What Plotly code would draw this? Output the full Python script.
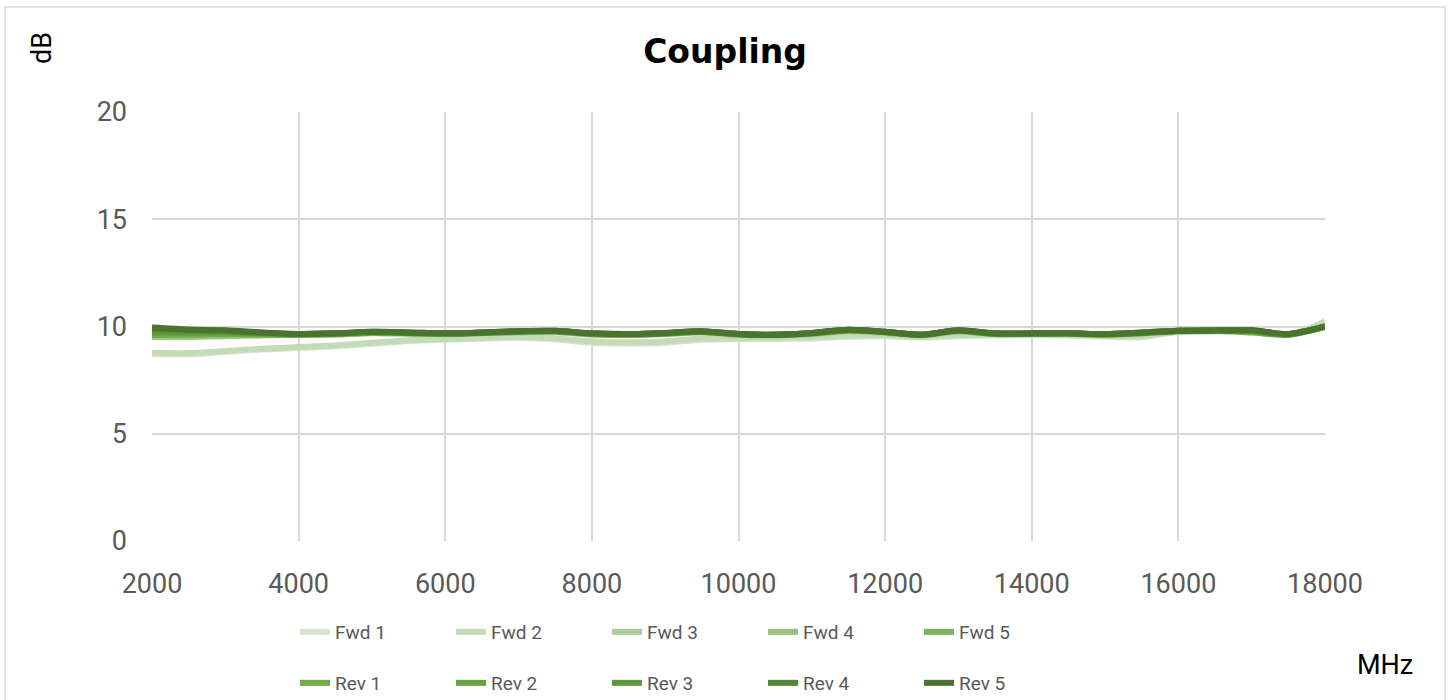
import plotly.graph_objects as go

freq = [2000, 2500, 3000, 3500, 4000, 4500, 5000, 5500, 6000, 6500, 7000, 7500,
        8000, 8500, 9000, 9500, 10000, 10500, 11000, 11500, 12000, 12500, 13000,
        13500, 14000, 14500, 15000, 15500, 16000, 16500, 17000, 17500, 18000]

fwd1 = [8.72, 8.70, 8.82, 8.93, 9.00, 9.08, 9.20, 9.32, 9.38, 9.43, 9.48, 9.40, 9.24, 9.20, 9.24, 9.38, 9.40,
        9.42, 9.44, 9.52, 9.55, 9.48, 9.55, 9.58, 9.60, 9.58, 9.52, 9.50, 9.74, 9.78, 9.74, 9.60, 10.25]
fwd2 = [8.78, 8.76, 8.86, 8.96, 9.04, 9.12, 9.24, 9.36, 9.42, 9.46, 9.52, 9.45, 9.30, 9.26, 9.30, 9.44, 9.46,
        9.48, 9.50, 9.58, 9.60, 9.52, 9.60, 9.62, 9.64, 9.62, 9.56, 9.55, 9.78, 9.80, 9.78, 9.62, 10.20]
fwd3 = [9.50, 9.50, 9.55, 9.58, 9.60, 9.62, 9.68, 9.66, 9.64, 9.68, 9.72, 9.74, 9.62, 9.60, 9.64, 9.72, 9.60,
        9.57, 9.64, 9.78, 9.70, 9.58, 9.76, 9.64, 9.64, 9.64, 9.60, 9.66, 9.76, 9.78, 9.78, 9.62, 9.98]
fwd4 = [9.55, 9.55, 9.58, 9.60, 9.62, 9.64, 9.70, 9.68, 9.65, 9.69, 9.74, 9.76, 9.64, 9.61, 9.66, 9.74, 9.62,
        9.59, 9.66, 9.80, 9.72, 9.60, 9.78, 9.65, 9.65, 9.66, 9.62, 9.68, 9.78, 9.80, 9.80, 9.63, 9.99]
fwd5 = [9.60, 9.62, 9.63, 9.63, 9.63, 9.65, 9.71, 9.69, 9.66, 9.70, 9.75, 9.77, 9.65, 9.62, 9.67, 9.75, 9.63,
        9.60, 9.67, 9.81, 9.73, 9.61, 9.79, 9.66, 9.66, 9.67, 9.63, 9.69, 9.79, 9.80, 9.80, 9.63, 10.00]
rev1 = [9.62, 9.64, 9.65, 9.64, 9.63, 9.66, 9.72, 9.70, 9.67, 9.71, 9.76, 9.78, 9.66, 9.63, 9.68, 9.76, 9.64,
        9.61, 9.68, 9.82, 9.74, 9.61, 9.80, 9.66, 9.66, 9.67, 9.63, 9.70, 9.80, 9.80, 9.72, 9.62, 9.98]
rev2 = [9.70, 9.70, 9.70, 9.67, 9.64, 9.66, 9.73, 9.70, 9.67, 9.71, 9.77, 9.79, 9.66, 9.63, 9.68, 9.77, 9.64,
        9.61, 9.69, 9.83, 9.74, 9.62, 9.81, 9.67, 9.67, 9.68, 9.64, 9.70, 9.80, 9.81, 9.78, 9.63, 9.99]
rev3 = [9.75, 9.74, 9.74, 9.69, 9.65, 9.67, 9.74, 9.71, 9.68, 9.72, 9.77, 9.79, 9.67, 9.64, 9.69, 9.77, 9.65,
        9.62, 9.69, 9.84, 9.75, 9.62, 9.81, 9.67, 9.67, 9.68, 9.64, 9.71, 9.80, 9.81, 9.81, 9.64, 10.00]
rev4 = [9.88, 9.82, 9.80, 9.71, 9.65, 9.68, 9.75, 9.72, 9.68, 9.72, 9.78, 9.80, 9.68, 9.65, 9.70, 9.78, 9.65,
        9.62, 9.70, 9.85, 9.75, 9.62, 9.82, 9.68, 9.68, 9.68, 9.65, 9.72, 9.80, 9.82, 9.82, 9.65, 10.00]
rev5 = [9.95, 9.86, 9.82, 9.72, 9.65, 9.68, 9.75, 9.72, 9.68, 9.72, 9.78, 9.80, 9.68, 9.65, 9.70, 9.78, 9.65,
        9.62, 9.70, 9.85, 9.75, 9.62, 9.82, 9.68, 9.68, 9.68, 9.65, 9.72, 9.80, 9.82, 9.82, 9.65, 10.00]

series_names = ["Fwd 1", "Fwd 2", "Fwd 3", "Fwd 4", "Fwd 5", "Rev 1", "Rev 2", "Rev 3", "Rev 4", "Rev 5"]
series_vals = [fwd1, fwd2, fwd3, fwd4, fwd5, rev1, rev2, rev3, rev4, rev5]
colors = ["#d5e5cd", "#c4dab8", "#aecb9e", "#98c182", "#7cb25c",
          "#70ad47", "#67a441", "#5e983b", "#548634", "#4a732e"]

x_ticks = [2000, 4000, 6000, 8000, 10000, 12000, 14000, 16000, 18000]
x_tick_text = ["2000", "4000", "6000", "8000", "10000", "12000", "14000", "16000", "18000"]
y_ticks = [0, 5, 10, 15, 20]

TICK_FONT = dict(family="Roboto, 'Open Sans', sans-serif", size=27, color="#595959")

W, H = 1451, 700
L, R, T, B = 152, 1325, 112, 541  # plot area in page pixels
PW, PH = R - L, B - T


def px(x):
    return (x - L) / PW


def py(y):
    return (B - y) / PH


fig = go.Figure()
for i, (name, vals, col) in enumerate(zip(series_names, series_vals, colors)):
    fig.add_trace(go.Scatter(
        x=freq, y=vals, name=name, mode="lines",
        line=dict(color=col, width=6, shape="spline", smoothing=0.8),
        legend="legend" if i < 5 else "legend2",
    ))

legend_common = dict(
    orientation="h", xanchor="left", yanchor="middle",
    font=dict(family="Roboto, 'Open Sans', sans-serif", size=19, color="#595959"),
    entrywidth=111, entrywidthmode="pixels", bgcolor="rgba(0,0,0,0)",
    itemwidth=30, tracegroupgap=0,
)

fig.update_layout(
    width=W, height=H,
    paper_bgcolor="white", plot_bgcolor="white",
    margin=dict(l=L, r=W - R, t=T, b=H - B, autoexpand=False),
    title=dict(text="<b>Coupling</b>", x=725 / W, xanchor="center",
               y=1 - 51 / H, yanchor="middle",
               font=dict(family="'DejaVu Sans', sans-serif", size=33, color="#000000")),
    xaxis=dict(range=[2000, 18000], tickvals=x_ticks, ticktext=x_tick_text, showgrid=True,
               gridcolor="#d9d9d9", gridwidth=1.5, zeroline=False, showline=False, ticks="",
               ticklabelstandoff=24, tickfont=TICK_FONT),
    yaxis=dict(range=[0, 20], tickvals=y_ticks, showgrid=True, gridcolor="#d9d9d9",
               gridwidth=1.5, zeroline=False, showline=False, ticks="",
               ticklabelstandoff=24, tickfont=TICK_FONT),
    legend=dict(x=px(295), y=py(632), **legend_common),
    legend2=dict(x=px(295), y=py(683), **legend_common),
    showlegend=True,
    annotations=[
        dict(text="dB", xref="paper", yref="paper", x=px(42), y=py(48),
             xanchor="center", yanchor="middle", showarrow=False, textangle=-90,
             font=dict(family="Roboto, 'Open Sans', sans-serif", size=27, color="#000000")),
        dict(text="MHz", xref="paper", yref="paper", x=px(1385), y=py(665),
             xanchor="center", yanchor="middle", showarrow=False,
             font=dict(family="Roboto, 'Open Sans', sans-serif", size=27, color="#000000")),
    ],
    shapes=[
        dict(type="rect", xref="paper", yref="paper",
             x0=px(5), x1=px(1445), y0=py(712), y1=py(7),
             line=dict(color="#d9d9d9", width=1.5), fillcolor="rgba(0,0,0,0)", layer="below"),
    ],
)

fig.write_html("out.html", config={"displayModeBar": False},
               post_script="document.body.style.margin='0';")
